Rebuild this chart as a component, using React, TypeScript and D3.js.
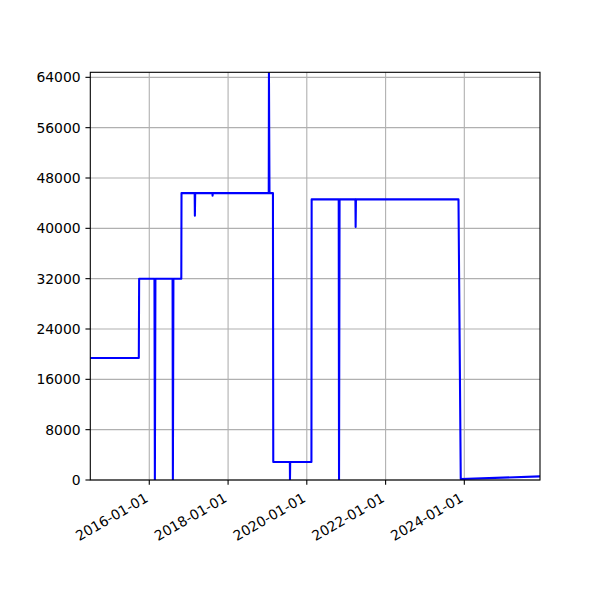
import React from 'react';
import * as d3 from 'd3';

// step-like series
const dates = [
  '2014-07-03', '2015-09-26', '2015-09-29', '2016-02-18', '2016-02-22', '2016-02-27',
  '2016-08-04', '2016-08-07', '2016-08-12', '2016-10-24', '2016-10-26', '2017-02-25',
  '2017-02-27', '2017-03-02', '2017-08-09', '2017-08-10', '2017-08-12', '2019-01-13',
  '2019-01-15', '2019-01-20', '2019-02-21', '2019-02-24', '2019-07-28', '2019-07-29',
  '2019-07-31', '2020-02-13', '2020-02-15', '2020-10-23', '2020-10-26', '2020-10-31',
  '2021-03-27', '2021-03-29', '2021-04-01', '2023-11-08', '2023-11-29', '2025-12-03',
];
const values = [
  19400, 19400, 32000, 32000, 0, 32000,
  32000, 0, 32000, 32000, 45600, 45600,
  42000, 45600, 45600, 45200, 45600, 45600,
  64800, 45600, 45600, 2850, 2850, 0,
  2850, 2850, 44600, 44600, 0, 44600,
  44600, 40200, 44600, 44600, 150, 580,
];

const xTicks = ['2016-01-01', '2018-01-01', '2020-01-01', '2022-01-01', '2024-01-01'];
const yTicks = [0, 8000, 16000, 24000, 32000, 40000, 48000, 56000, 64000];

const W = 600;
const H = 600;
const left = 90.3;
const right = 540;
const top = 72.3;
const bottom = 480;
const fontSize = 13.9;
const tickLen = 4.86;
const pad = 4.86;

const parse = d3.timeParse('%Y-%m-%d');

const App: React.FC = () => {
  const pts = dates.map((d, i) => ({ t: parse(d) as Date, v: values[i] }));

  const x = d3.scaleTime()
    .domain(d3.extent(pts, d => d.t) as [Date, Date])
    .range([left, right]);
  const y = d3.scaleLinear()
    .domain([0, d3.max(values) as number])
    .range([bottom, top]);

  const line = d3.line<{ t: Date; v: number }>()
    .x(d => x(d.t))
    .y(d => y(d.v));

  // height of the text box, used to place rotated date labels like matplotlib does
  const boxH = fontSize * 1.164;
  const ascent = fontSize * 0.928;

  return (
    <svg width={W} height={H} style={{ position: 'absolute', left: 0, top: 0 }}
      fontFamily="'DejaVu Sans', sans-serif">
      <rect x={0} y={0} width={W} height={H} fill="#fff" />

      {/* grid */}
      {xTicks.map(s => (
        <line key={'gx' + s} x1={x(parse(s) as Date)} x2={x(parse(s) as Date)} y1={top} y2={bottom}
          stroke="#b0b0b0" strokeWidth={1.1} />
      ))}
      {yTicks.map(v => (
        <line key={'gy' + v} x1={left} x2={right} y1={y(v)} y2={y(v)}
          stroke="#b0b0b0" strokeWidth={1.1} />
      ))}

      <defs>
        <clipPath id="plot">
          <rect x={left} y={top} width={right - left} height={bottom - top} />
        </clipPath>
      </defs>
      <path d={line(pts) || ''} fill="none" stroke="#0000ff" strokeWidth={2.08}
        strokeLinejoin="round" strokeLinecap="square" clipPath="url(#plot)" />

      {/* spines */}
      <rect x={left} y={top} width={right - left} height={bottom - top}
        fill="none" stroke="#000" strokeWidth={1.1} />

      {/* y axis */}
      {yTicks.map(v => (
        <g key={'y' + v}>
          <line x1={left - tickLen} x2={left} y1={y(v)} y2={y(v)} stroke="#000" strokeWidth={1.1} />
          <text x={left - tickLen - pad} y={y(v)} dy="0.36em" textAnchor="end"
            fontSize={fontSize} fill="#000">{v}</text>
        </g>
      ))}

      {/* x axis */}
      {xTicks.map(s => {
        const px = x(parse(s) as Date);
        return (
          <g key={'x' + s}>
            <line x1={px} x2={px} y1={bottom} y2={bottom + tickLen} stroke="#000" strokeWidth={1.1} />
            <g transform={`translate(${px - boxH * 0.5 + 1.5},${bottom + tickLen + pad}) rotate(-30)`}>
              <text x={0} y={ascent} textAnchor="end" fontSize={fontSize} fill="#000">{s}</text>
            </g>
          </g>
        );
      })}
    </svg>
  );
};

export default App;
